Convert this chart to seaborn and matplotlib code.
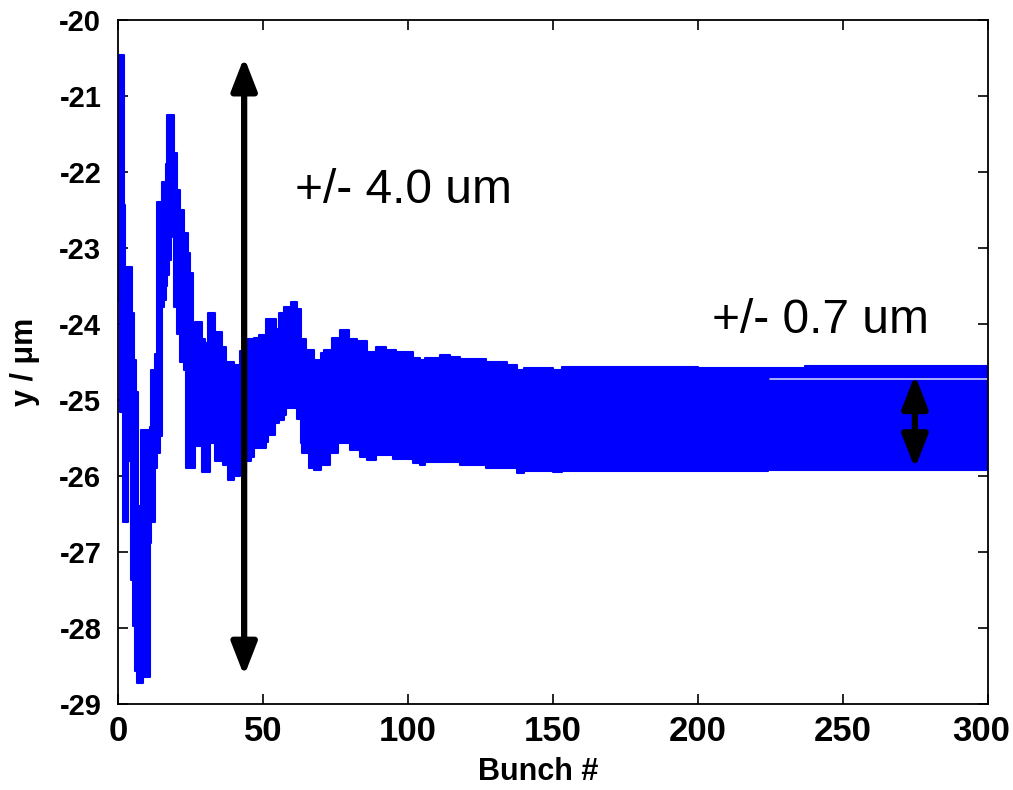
import matplotlib
matplotlib.use("Agg")
import matplotlib.pyplot as plt
from matplotlib import font_manager as fm
from matplotlib.transforms import ScaledTranslation
import numpy as np
import pandas as pd
import seaborn as sns

# ---- data (envelope of the bunch-by-bunch signal) ----
bunch = [0.0, 0.7, 1.7, 2.0, 2.5, 3.4, 4.4, 4.8, 5.2, 5.4, 5.7, 6.3, 6.7, 7.0, 8.0,
         8.6, 10.9, 11.5, 12.6, 13.5, 14.4, 15.0, 15.8, 16.4, 16.8, 17.5, 18.2, 18.7,
         19.3, 20.5, 21.4, 22.6, 23.3, 24.3, 24.8, 26.0, 26.5, 28.8, 30.0, 31.0, 31.7,
         33.4, 35.7, 36.3, 37.4, 38.0, 40.0, 42.0, 44.0, 45.7, 47.0, 48.6, 50.9, 51.7,
         54.0, 54.4, 55.5, 57.2, 58.0, 59.5, 61.8, 63.0, 63.6, 64.7, 66.0, 67.6, 69.9,
         71.0, 73.0, 73.8, 76.0, 76.6, 79.5, 80.0, 82.4, 83.5, 86.0, 89.0, 92.4, 94.7,
         95.9, 101.6, 104.0, 106.0, 111.0, 114.5, 118.0, 127.0, 134.0, 137.5, 140.0,
         150.0, 153.0, 200.0, 224.0, 237.0, 300.0]
upper = [-20.46, -20.46, -20.46, -22.43, -23.25, -23.25, -23.25, -23.86, -23.86, -24.47,
         -24.47, -24.90, -24.90, -26.40, -25.40, -25.40, -25.35, -24.60, -24.40, -22.40,
         -22.40, -22.13, -22.13, -21.90, -21.25, -21.25, -21.25, -21.25, -21.75, -22.24,
         -22.50, -22.80, -22.80, -23.07, -23.33, -24.10, -23.97, -24.20, -24.25, -23.86,
         -23.86, -24.10, -24.30, -24.30, -24.50, -24.50, -24.54, -24.35, -24.20, -24.20,
         -24.18, -24.14, -23.93, -23.93, -23.93, -24.06, -23.86, -23.77, -23.77, -23.71,
         -23.80, -24.20, -24.20, -24.34, -24.34, -24.47, -24.38, -24.34, -24.34, -24.19,
         -24.19, -24.08, -24.20, -24.20, -24.22, -24.22, -24.37, -24.30, -24.34, -24.34,
         -24.37, -24.45, -24.47, -24.45, -24.41, -24.44, -24.46, -24.50, -24.54, -24.60,
         -24.58, -24.60, -24.57, -24.58, -24.58, -24.55, -24.55]
lower = [-23.70, -25.16, -26.60, -26.60, -26.60, -25.80, -27.37, -27.37, -27.98, -27.98,
         -28.57, -28.57, -28.73, -28.73, -28.73, -28.64, -26.88, -26.60, -25.90, -25.70,
         -25.48, -23.78, -23.68, -23.50, -23.35, -23.16, -22.85, -22.60, -23.78, -24.13,
         -24.50, -24.60, -25.90, -25.90, -25.90, -25.90, -25.60, -25.95, -25.95, -25.95,
         -25.57, -25.80, -25.80, -25.85, -25.85, -26.05, -26.00, -25.96, -25.80, -25.75,
         -25.63, -25.63, -25.55, -25.46, -25.30, -25.30, -25.26, -25.20, -25.10, -25.10,
         -25.25, -25.57, -25.70, -25.70, -25.90, -25.92, -25.86, -25.86, -25.70, -25.70,
         -25.57, -25.57, -25.57, -25.66, -25.66, -25.75, -25.79, -25.72, -25.72, -25.77,
         -25.77, -25.83, -25.86, -25.82, -25.82, -25.82, -25.86, -25.89, -25.89, -25.96,
         -25.93, -25.95, -25.93, -25.93, -25.92, -25.92, -25.92]

x_ticks = [0, 50, 100, 150, 200, 250, 300]
y_ticks = [-20, -21, -22, -23, -24, -25, -26, -27, -28, -29]
x_label = "Bunch #"
y_label = "y / \u03bcm"
note_big = "+/- 4.0 um"
note_small = "+/- 0.7 um"

# ---- style ----
sns.set_theme(style="ticks")
plt.rcParams["font.family"] = ["Liberation Sans", "DejaVu Sans"]
for key in ("text.color", "axes.labelcolor", "xtick.color", "ytick.color",
            "axes.edgecolor"):
    plt.rcParams[key] = "black"
names = {f.name for f in fm.fontManager.ttflist}
narrow = "Liberation Sans Narrow" if "Liberation Sans Narrow" in names else "Liberation Sans"
xt_size = 30 if narrow == "Liberation Sans Narrow" else 25
xl_size = 28 if narrow == "Liberation Sans Narrow" else 22

fig = plt.figure(figsize=(10.13, 7.90), dpi=100)
fig.patch.set_facecolor("white")
ax = fig.add_axes([118 / 1013, 1 - 704 / 790, (988 - 118) / 1013, (704 - 20) / 790])
ax.set_facecolor("white")

df = pd.DataFrame({"bunch": bunch, "upper": upper, "lower": lower})
blue = "#0000ff"
ax.fill_between(df["bunch"], df["lower"], df["upper"], step="post", color=blue, lw=0)
sns.lineplot(data=df, x="bunch", y="upper", drawstyle="steps-post", color=blue,
             lw=1.5, estimator=None, ax=ax)
sns.lineplot(data=df, x="bunch", y="lower", drawstyle="steps-post", color=blue,
             lw=1.5, estimator=None, ax=ax)
# faint gap line visible inside the band
ax.plot([224.8, 300], [-24.72, -24.72], color="#c9cdff", lw=1.2)

ax.set_xlim(0, 300)
ax.set_ylim(-29, -20)
ax.set_xticks(x_ticks)
ax.set_yticks(y_ticks)
ax.set_xticklabels([str(t) for t in x_ticks], fontfamily=narrow, fontweight="bold",
                   fontsize=xt_size)
ax.set_yticklabels([str(t) for t in y_ticks], fontweight="bold", fontsize=21)
ax.tick_params(axis="both", direction="in", length=7, width=1.2, color="black",
               top=True, right=True)
ax.tick_params(axis="x", pad=8)
ax.tick_params(axis="y", pad=12)
for s in ax.spines.values():
    s.set_visible(True)
    s.set_linewidth(1.3)
    s.set_color("black")
# keep the last x tick label inside the figure
last = ax.get_xticklabels()[-1]
last.set_transform(last.get_transform() + ScaledTranslation(-7 / 100, 0, fig.dpi_scale_trans))

ax.set_xlabel(x_label, fontfamily=narrow, fontweight="bold", fontsize=xl_size)
ax.xaxis.set_label_coords((538 - 118) / 870, -(757 - 704) / 684)
ax.set_ylabel(y_label, fontweight="bold", fontsize=22)
ax.yaxis.set_label_coords(-(118 - 40) / 870, 0.5)

# double-headed arrows
arrow_kw = dict(arrowstyle="<|-|>,head_length=0.9,head_width=0.35", lw=4.5,
                color="black", mutation_scale=22, shrinkA=0, shrinkB=0)
ax.annotate("", xy=(43.5, -20.49), xytext=(43.5, -28.63), arrowprops=arrow_kw)
ax.annotate("", xy=(274.8, -24.67), xytext=(274.8, -25.90), arrowprops=arrow_kw)

ax.text(61.0, -22.24, note_big, fontsize=34.5, ha="left", va="center", color="black")
ax.text(204.8, -23.95, note_small, fontsize=34.5, ha="left", va="center", color="black")

fig.savefig("out.png", dpi=100, facecolor="white")
